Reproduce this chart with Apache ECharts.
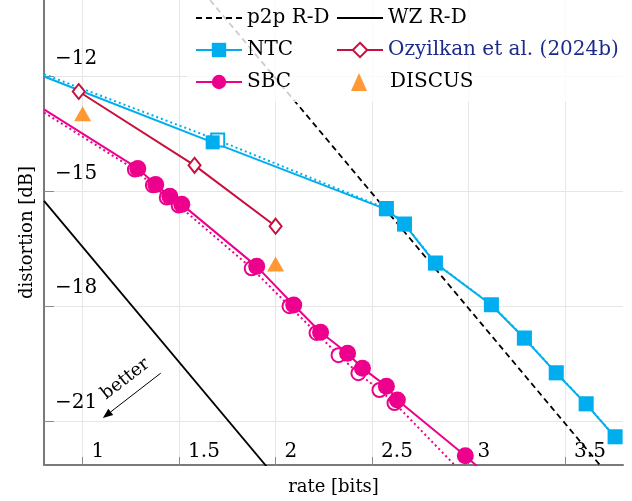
<!DOCTYPE html>
<html>
<head>
<meta charset="utf-8">
<script src="https://cdn.jsdelivr.net/npm/echarts@6/dist/echarts.min.js"></script>
<style>
  html, body { margin: 0; padding: 0; background: #fff; }
  #chart { width: 632px; height: 501px; }
</style>
</head>
<body>
<div id="chart"></div>
<script>
// tick values
const rateTicks = [1, 1.5, 2, 2.5, 3, 3.5];
const distTicks = [-21, -18, -15, -12];

// reference R-D bounds
const p2pRate = [1.66, 3.8];
const p2pDist = [-10.0, -22.87];
const wzRate = [0.8, 2.0];
const wzDist = [-15.25, -22.47];

// NTC (solid + dotted variant), first point is where the line enters the plot
const ntcRate = [0.8, 1.674, 2.574, 2.668, 2.828, 3.118, 3.289, 3.454, 3.609, 3.759];
const ntcDist = [-12.0, -13.72, -15.47, -15.86, -16.88, -17.97, -18.84, -19.75, -20.56, -21.42];
const ntcDotRate = [0.8, 1.70, 2.574, 2.668, 2.828, 3.118, 3.289, 3.454, 3.609, 3.759];
const ntcDotDist = [-11.94, -13.66, -15.45, -15.85, -16.87, -17.96, -18.83, -19.74, -20.55, -21.41];

// Ozyilkan et al.
const ozyRate = [0.98, 1.58, 2.0];
const ozyDist = [-12.39, -14.32, -15.91];

// SBC (solid + dotted variant)
const sbcRate = [0.8, 1.286, 1.379, 1.452, 1.514, 1.902, 2.094, 2.233, 2.373, 2.450, 2.574, 2.631, 2.983, 3.055];
const sbcDist = [-12.86, -14.40, -14.82, -15.13, -15.34, -16.96, -17.97, -18.68, -19.23, -19.62, -20.09, -20.45, -21.91, -22.23];
const sbcDotRate = [0.8, 1.271, 1.364, 1.436, 1.498, 1.876, 2.072, 2.212, 2.326, 2.429, 2.538, 2.616, 2.962];
const sbcDotDist = [-12.94, -14.43, -14.84, -15.16, -15.37, -17.01, -18.00, -18.70, -19.28, -19.75, -20.19, -20.53, -22.33];

// DISCUS
const discusRate = [1.0, 2.0];
const discusDist = [-12.97, -16.9];

// "better" arrow, tail -> head
const betterFrom = [1.405, -19.75];
const betterTo = [1.105, -20.92];

const FONT = "'DejaVu Serif', 'Liberation Serif', serif";
const CYAN = '#00aeef';
const MAGENTA = '#ec008c';
const CRIMSON = '#c8103f';
const ORANGE = '#ff7f00';

// first point of a curve is only the plot-edge entry, no marker there
function pts(xs, ys, edge) {
  return xs.map(function (x, i) {
    if (edge && i === 0) return { value: [x, ys[i]], symbol: 'none' };
    return [x, ys[i]];
  });
}

const chart = echarts.init(document.getElementById('chart'));

const legendText = { fontFamily: FONT, fontSize: 20, lineHeight: 20, color: '#000' };

const option = {
  animation: false,
  grid: { left: 44, top: 0, right: 9, bottom: 36 },
  xAxis: {
    type: 'value',
    min: 0.8,
    max: 3.8,
    name: 'rate [bits]',
    nameLocation: 'middle',
    nameGap: 13,
    nameTextStyle: { fontFamily: FONT, fontSize: 18, color: '#000' },
    axisLine: { show: true, lineStyle: { color: '#7a7a7a', width: 2 } },
    axisTick: { show: true, inside: true, length: 8, customValues: rateTicks, lineStyle: { color: '#8a8a8a' } },
    axisLabel: {
      inside: true, customValues: rateTicks, margin: 3,
      align: 'left', padding: [0, 0, 0, 9],
      fontFamily: FONT, fontSize: 20, color: '#000'
    },
    splitLine: { show: true, lineStyle: { color: '#e6e6e6', width: 1 } }
  },
  yAxis: {
    type: 'value',
    min: -22.15,
    max: -10.0,
    name: 'distortion [dB]',
    nameLocation: 'middle',
    nameGap: 8,
    nameTextStyle: { fontFamily: FONT, fontSize: 18, color: '#000' },
    axisLine: { show: true, lineStyle: { color: '#7a7a7a', width: 2 } },
    axisTick: { show: true, inside: true, length: 10, customValues: distTicks, lineStyle: { color: '#8a8a8a' } },
    axisLabel: {
      inside: true, customValues: distTicks, margin: 11,
      verticalAlign: 'bottom', padding: [0, 0, 8, 0],
      fontFamily: FONT, fontSize: 20, color: '#000',
      formatter: function (v) { return String(v).replace('-', '\u2212'); }
    },
    splitLine: { show: true, lineStyle: { color: '#e6e6e6', width: 1 } }
  },
  legend: [
    {
      orient: 'vertical', left: 195, top: 8, padding: 0, z: 100,
      itemWidth: 46, itemHeight: 18, itemGap: 12, selectedMode: false,
      textStyle: legendText,
      data: [{ name: 'p2p R-D', itemStyle: { opacity: 0 } }, 'NTC', 'SBC']
    },
    {
      orient: 'vertical', left: 336, top: 8, padding: 0, z: 100,
      itemWidth: 46, itemHeight: 18, itemGap: 12, selectedMode: false,
      textStyle: legendText,
      data: [
        { name: 'WZ R-D', itemStyle: { opacity: 0 } },
        { name: 'Ozyilkan et al. (2024b)', textStyle: { color: '#1c2a8a' } }
      ]
    },
    {
      orient: 'vertical', left: 351, top: 72, padding: 0, z: 100,
      itemWidth: 16, itemHeight: 18, selectedMode: false,
      textStyle: Object.assign({}, legendText, { padding: [0, 0, 0, 18] }),
      data: ['DISCUS']
    }
  ],
  graphic: [
    {
      id: 'legendBg', type: 'rect', left: 187, top: 0, z: 50, silent: true,
      shape: { width: 436, height: 102 },
      style: { fill: 'rgba(255,255,255,0.8)' }
    }
  ],
  series: [
    {
      name: 'p2p R-D', type: 'line', symbol: 'none',
      lineStyle: { color: '#000', width: 1.8, type: [6, 4] },
      itemStyle: { color: '#000' },
      data: pts(p2pRate, p2pDist)
    },
    {
      name: 'WZ R-D', type: 'line', symbol: 'none',
      lineStyle: { color: '#000', width: 1.8 },
      itemStyle: { color: '#000' },
      data: pts(wzRate, wzDist)
    },
    {
      name: 'NTC dotted', type: 'line', symbol: 'emptyRect', symbolSize: 13,
      lineStyle: { color: CYAN, width: 2, type: [2, 3] },
      itemStyle: { color: CYAN, borderWidth: 2 },
      data: pts(ntcDotRate, ntcDotDist, true)
    },
    {
      name: 'NTC', type: 'line', symbol: 'rect', symbolSize: 14,
      lineStyle: { color: CYAN, width: 2 },
      itemStyle: { color: CYAN },
      data: pts(ntcRate, ntcDist, true)
    },
    {
      name: 'Ozyilkan et al. (2024b)', type: 'line', symbol: 'emptyDiamond', symbolSize: [12, 15],
      lineStyle: { color: CRIMSON, width: 2 },
      itemStyle: { color: CRIMSON, borderWidth: 2 },
      data: pts(ozyRate, ozyDist)
    },
    {
      name: 'SBC dotted', type: 'line', symbol: 'emptyCircle', symbolSize: 14,
      lineStyle: { color: MAGENTA, width: 2, type: [2, 3] },
      itemStyle: { color: MAGENTA, borderWidth: 2 },
      data: pts(sbcDotRate, sbcDotDist, true)
    },
    {
      name: 'SBC', type: 'line', symbol: 'circle', symbolSize: 17,
      lineStyle: { color: MAGENTA, width: 2 },
      itemStyle: { color: MAGENTA },
      data: pts(sbcRate, sbcDist, true)
    },
    {
      name: 'DISCUS', type: 'scatter', symbol: 'triangle', symbolSize: [17, 15],
      itemStyle: { color: ORANGE },
      data: pts(discusRate, discusDist)
    }
  ]
};

chart.setOption(option);

// "better" arrow annotation, placed from data coordinates
const a = chart.convertToPixel({ gridIndex: 0 }, betterFrom);
const b = chart.convertToPixel({ gridIndex: 0 }, betterTo);
const ang = Math.atan2(b[1] - a[1], b[0] - a[0]);
const len = Math.hypot(b[0] - a[0], b[1] - a[1]);
const ux = (a[0] - b[0]) / len, uy = (a[1] - b[1]) / len; // points up-right
const nx = uy, ny = -ux; // perpendicular, up-left
const head = 10, hw = 4;
const bx = b[0] - head * Math.cos(ang), by = b[1] - head * Math.sin(ang);
const mx = (a[0] + b[0]) / 2, my = (a[1] + b[1]) / 2;

chart.setOption({
  graphic: [
    {
      id: 'betterLine', type: 'line', z: 20, silent: true,
      shape: { x1: a[0], y1: a[1], x2: bx, y2: by },
      style: { stroke: '#000', lineWidth: 1 }
    },
    {
      id: 'betterHead', type: 'polygon', z: 20, silent: true,
      shape: {
        points: [
          [b[0], b[1]],
          [bx - hw * Math.sin(ang), by + hw * Math.cos(ang)],
          [bx + hw * Math.sin(ang), by - hw * Math.cos(ang)]
        ]
      },
      style: { fill: '#000' }
    },
    {
      id: 'betterText', type: 'text', z: 20, silent: true,
      x: mx + 17 * nx + 5 * ux, y: my + 17 * ny + 5 * uy,
      rotation: Math.atan2(-uy, ux),
      style: {
        text: 'better', font: "18px 'DejaVu Serif', serif", fill: '#000',
        align: 'center', verticalAlign: 'middle'
      }
    }
  ]
});
</script>
</body>
</html>
